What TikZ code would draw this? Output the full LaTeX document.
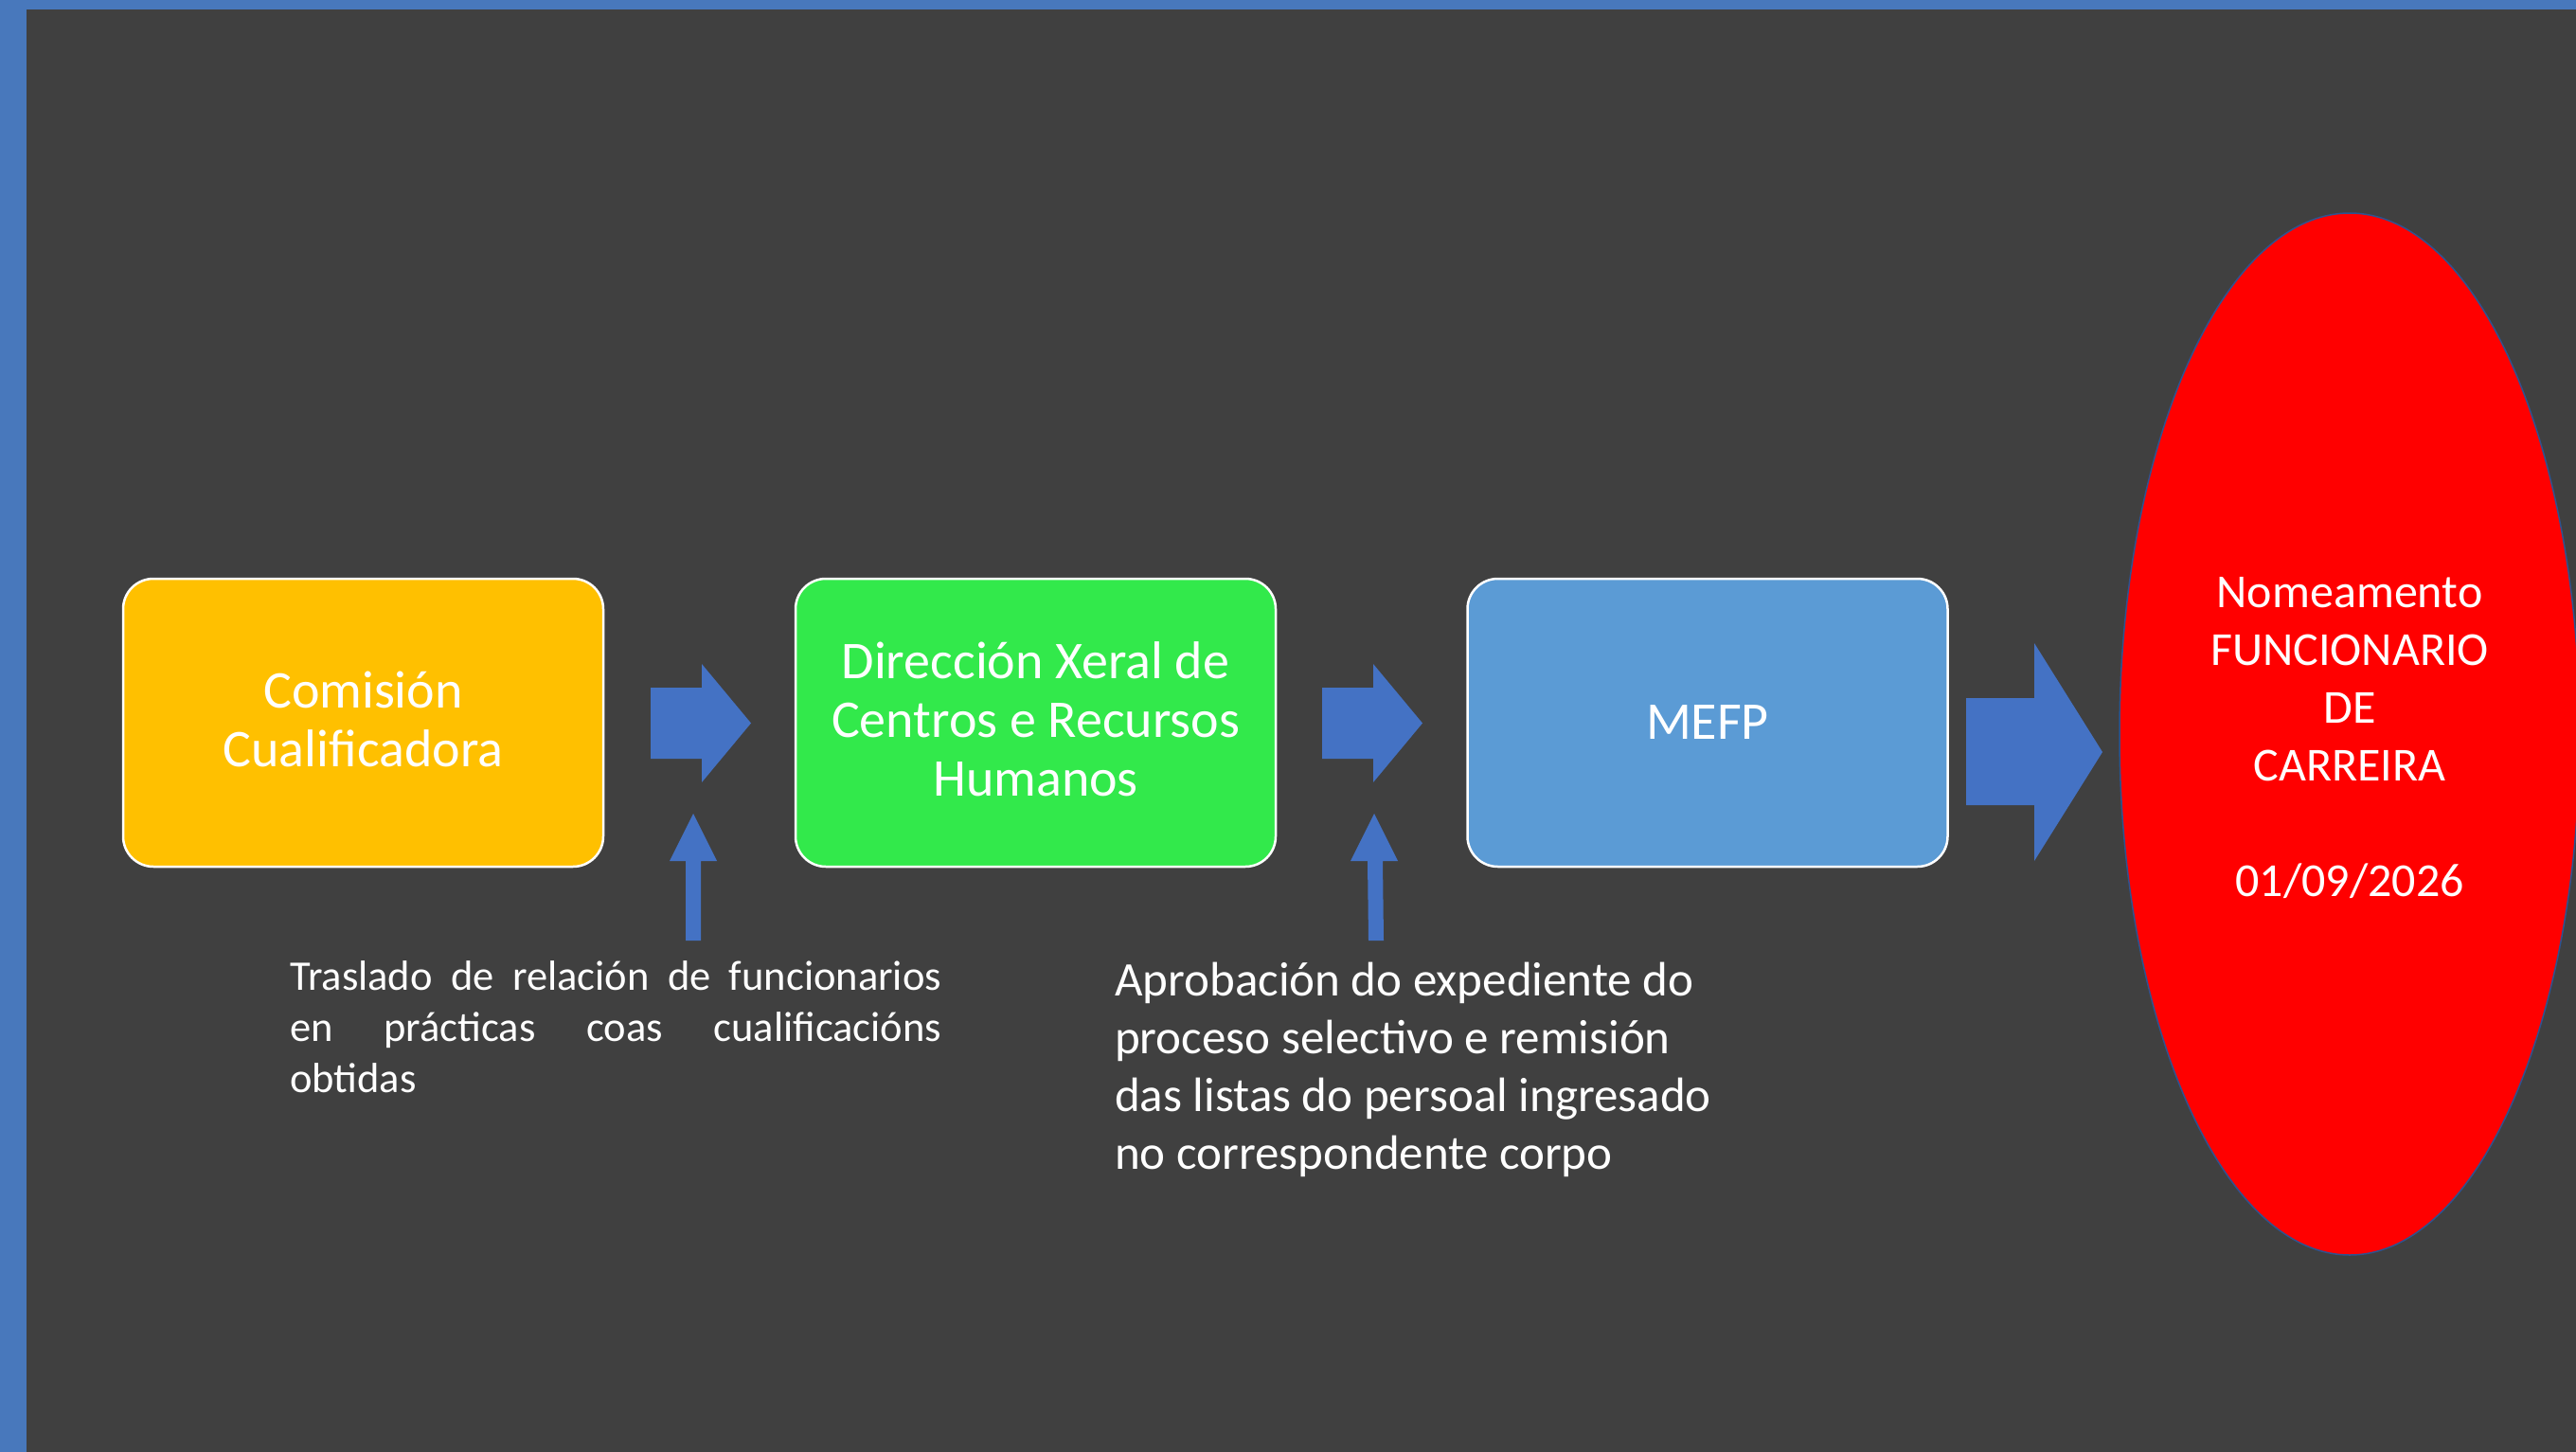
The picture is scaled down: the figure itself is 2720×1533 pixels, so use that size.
\documentclass[tikz,border=0pt]{standalone}
\usepackage{fontspec}
\setmainfont{Carlito}
\usetikzlibrary{shapes.geometric}
\definecolor{bgdark}{HTML}{404040}
\definecolor{frameblue}{HTML}{4878BC}
\definecolor{orangebox}{HTML}{FFC000}
\definecolor{greenbox}{HTML}{32E94B}
\definecolor{bluebox}{HTML}{5B9BD5}
\definecolor{arrowblue}{HTML}{4472C4}
\definecolor{ellborder}{HTML}{2F528F}
\tikzset{
  stepbox/.style={draw=white, line width=2.5pt, rounded corners=32pt, minimum width=507pt, minimum height=304pt, inner sep=0pt, text=white, align=center, font=\fontsize{56}{62}\selectfont},
  blockarrow/.style={fill=arrowblue, draw=none},
  notetext/.style={text=white, inner sep=0pt},
}
\begin{document}
\begin{tikzpicture}[x=1pt,y=-1pt]
\useasboundingbox (0,0) rectangle (2720,1533);
\fill[bgdark] (0,0) rectangle (2720,1533);
\fill[frameblue] (0,0) rectangle (2720,10);
\fill[frameblue] (0,0) rectangle (28,1533);

\node[stepbox, fill=orangebox] (comision) at (383.5,763) {Comisión\\Cualificadora\rule[-7pt]{0pt}{7pt}};
\node[stepbox, fill=greenbox] (direccion) at (1093.5,763) {Dirección Xeral de\\Centros e Recursos\\Humanos\rule[-7pt]{0pt}{7pt}};
\node[stepbox, fill=bluebox] (mefp) at (1803,763) {MEFP};

\node[ellipse, fill=red, draw=ellborder, line width=1.5pt, minimum width=486pt, minimum height=1100pt, inner sep=0pt, text=white, align=center, font=\fontsize{50}{61}\selectfont] (nomeamento) at (2481,775) {\rule{0pt}{40pt}Nomeamento\\FUNCIONARIO\\DE\\CARREIRA\\[61pt]01/09/2026};

% block arrows
\fill[blockarrow] (687,726) -- (741,726) -- (741,701) -- (793,763.5) -- (741,826) -- (741,801) -- (687,801) -- cycle;
\fill[blockarrow] (1396,726) -- (1450,726) -- (1450,701) -- (1502,763.5) -- (1450,826) -- (1450,801) -- (1396,801) -- cycle;
\fill[blockarrow] (2076,737) -- (2148,737) -- (2148,679) -- (2220,794) -- (2148,909) -- (2148,850) -- (2076,850) -- cycle;
\fill[blockarrow] (732,859) -- (757,909) -- (740,909) -- (740,993) -- (724,993) -- (724,909) -- (707,909) -- cycle;
\fill[blockarrow] (1451,859) -- (1476,909) -- (1460,909) -- (1461,993) -- (1445,993) -- (1444,909) -- (1426,909) -- cycle;

\node[notetext, anchor=base west, text width=688pt, align=justify, font=\fontsize{44.5}{54}\selectfont] (traslado) at (306,1045) {\hyphenpenalty=10000\relax Traslado de relación de \mbox{funcionarios}\linebreak en prácticas coas \mbox{cualificacións}\linebreak obtidas};
\node[notetext, anchor=base west, align=left, font=\fontsize{51}{61}\selectfont] (aprobacion) at (1177,1234) {Aprobación do expediente do\\proceso selectivo e remisión\\das listas do persoal ingresado\\no correspondente corpo};
\end{tikzpicture}
\end{document}
